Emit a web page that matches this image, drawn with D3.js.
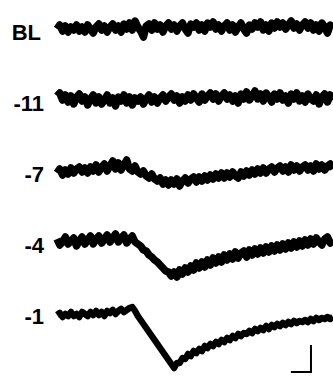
<!DOCTYPE html>
<html>
<head>
<meta charset="utf-8">
<script src="https://cdn.jsdelivr.net/npm/d3@7"></script>
<style>
  html, body { margin: 0; padding: 0; background: #fff; }
  svg { display: block; }
</style>
</head>
<body>
<svg id="chart" width="333" height="385"></svg>
<script>
// Trace labels (time before stimulus, top to bottom)
const labels = ["BL", "-11", "-7", "-4", "-1"];

// Sampled values of each trace (100 samples each, arbitrary units, + = up)
const traceBL = [
  0, 4, -2, 3, -3, 2, -1, 4, -2, 2,
  -3, 4, 0, -4, 2, 5, -1, 3, -3, 2,
  5, -1, 3, -3, 5, 0, 6, -1, 8, 2,
  -2, -8, 3, 5, -1, 6, 0, 4, -3, 3,
  6, 0, 4, -2, 3, 6, 0, -4, 5, 2,
  6, -1, 4, -2, 6, 2, 7, 0, 4, -2,
  3, 6, -1, 4, -3, 2, 6, 0, -4, 4,
  0, 6, 2, 7, -1, 4, -2, 6, 1, 7,
  2, 6, 0, 4, 8, 1, 5, -1, 4, 7,
  1, 6, -1, 4, -2, 6, 2, -4, 4, 1
];
const trace11 = [
  4, 7, 0, 5, -2, 4, -4, 3, 6, -1,
  3, -5, 1, 5, -3, 3, -4, 0, 5, -3,
  2, -6, 3, -1, 5, -3, 3, -5, 2, -1,
  3, -4, 1, 5, -2, 3, -3, 2, 5, -1,
  3, 6, 0, 4, -3, 3, -1, 5, 0, 6,
  2, -2, 6, 0, 4, 7, 1, 6, -1, 4,
  7, 1, 5, -1, 4, -3, 6, 1, 8, 0,
  4, 9, 1, 6, -1, 7, 3, -2, 6, 1,
  7, 0, 4, -3, 6, 1, 7, -1, 4, -2,
  6, 1, -1, 5, -4, 3, 6, -2, 5, 0
];
const trace7 = [
  -2, 2, -4, 1, -3, 3, -2, 2, 4, -1,
  3, -2, 4, 0, 6, -1, 4, 7, 0, 5,
  10, 2, 8, 1, 6, 11, 2, 0, 5, -1,
  -3, 0, -5, -7, -3, -8, -10, -7, -13, -9,
  -14, -9, -13, -8, -15, -10, -7, -12, -8, -6,
  -11, -6, -10, -5, -9, -4, -8, -3, -7, -2,
  -7, -2, -6, -1, -5, -7, -1, -5, 0, -4,
  1, -3, 2, -2, 3, -2, 2, 4, -1, 3,
  5, 0, 4, -1, 6, 1, 5, 0, 4, 6,
  1, 5, 0, 7, 2, 6, 1, 5, 7, 2
];
const trace4 = [
  3, -3, 0, 5, -2, 1, 4, -4, 1, 5,
  -2, 2, 6, -2, 3, 6, -1, 3, 7, 0,
  4, 8, 0, 4, 7, -1, 3, 6, 0, -2,
  -4, -8, -9, -13, -15, -18, -20, -23, -26, -29,
  -30, -34, -30, -35, -28, -32, -26, -30, -24, -28,
  -21, -26, -20, -25, -18, -23, -16, -21, -15, -20,
  -13, -18, -12, -17, -10, -16, -11, -9, -15, -8,
  -13, -7, -12, -6, -11, -5, -10, -4, -9, -3,
  -8, -2, -7, -1, -6, 0, -5, 1, -4, 2,
  -3, 3, -2, 4, 0, -3, 3, 5, -1, 2
];
const trace1 = [
  -2, 0, -4, -1, -3, 1, -3, -1, -4, 1,
  -1, -3, 1, -2, 2, -2, 1, -3, 2, 0,
  3, -1, 2, 4, 1, 3, 5, 6, 2, -3,
  -7, -11, -15, -19, -23, -27, -31, -35, -39, -43,
  -47, -51, -55, -50, -50, -45, -46, -41, -43, -38,
  -40, -36, -38, -33, -35, -31, -33, -29, -31, -27,
  -29, -25, -27, -23, -25, -21, -23, -20, -21, -18,
  -20, -16, -18, -15, -17, -13, -16, -12, -14, -11,
  -13, -10, -12, -9, -11, -8, -10, -8, -9, -7,
  -9, -6, -8, -5, -7, -5, -6, -4, -6, -4
];
const traces = [traceBL, trace11, trace7, trace4, trace1];

// Scale bar lengths (in samples and amplitude units)
const scaleBarTime = 7.2;
const scaleBarAmp = 27;
const scaleBarEnd = 91.1;      // sample index where the bar corner sits
const scaleBarBase = -59;      // amplitude (relative to last row) of bar corner

const svg = d3.select("#chart");

const xScale = d3.scaleLinear().domain([0, 99]).range([57, 333]);
const rowScale = d3.scalePoint().domain(labels).range([29, 313]);
const ampScale = d3.scaleLinear().domain([0, 1]).range([0, -1]);

const line = d3.line()
  .x((d, i) => xScale(i))
  .y(d => d.y);

traces.forEach((vals, k) => {
  const base = rowScale(labels[k]);
  const pts = vals.map(v => ({ y: base + ampScale(v) }));
  svg.append("path")
    .attr("d", line(pts))
    .attr("fill", "none")
    .attr("stroke", "#000")
    .attr("stroke-width", k === 4 ? 6.5 : 7.5)
    .attr("stroke-linejoin", "round")
    .attr("stroke-linecap", "butt");
});

svg.selectAll("text.lbl")
  .data(labels)
  .enter()
  .append("text")
  .attr("class", "lbl")
  .attr("x", d => d === "BL" ? 41 : 44)
  .attr("y", d => rowScale(d) + 11)
  .attr("text-anchor", "end")
  .attr("font-family", "Liberation Sans, Arial, Helvetica, sans-serif")
  .attr("font-weight", "bold")
  .attr("font-size", 22)
  .attr("fill", "#000")
  .text(d => d);

// Scale bar
const lastBase = rowScale(labels[labels.length - 1]);
const cx = xScale(scaleBarEnd);
const cy = lastBase + ampScale(scaleBarBase);
const x0 = xScale(scaleBarEnd - scaleBarTime);
const y1 = lastBase + ampScale(scaleBarBase + scaleBarAmp);
svg.append("path")
  .attr("d", `M${x0},${cy}H${cx}V${y1}`)
  .attr("fill", "none")
  .attr("stroke", "#000")
  .attr("stroke-width", 2);
</script>
</body>
</html>
